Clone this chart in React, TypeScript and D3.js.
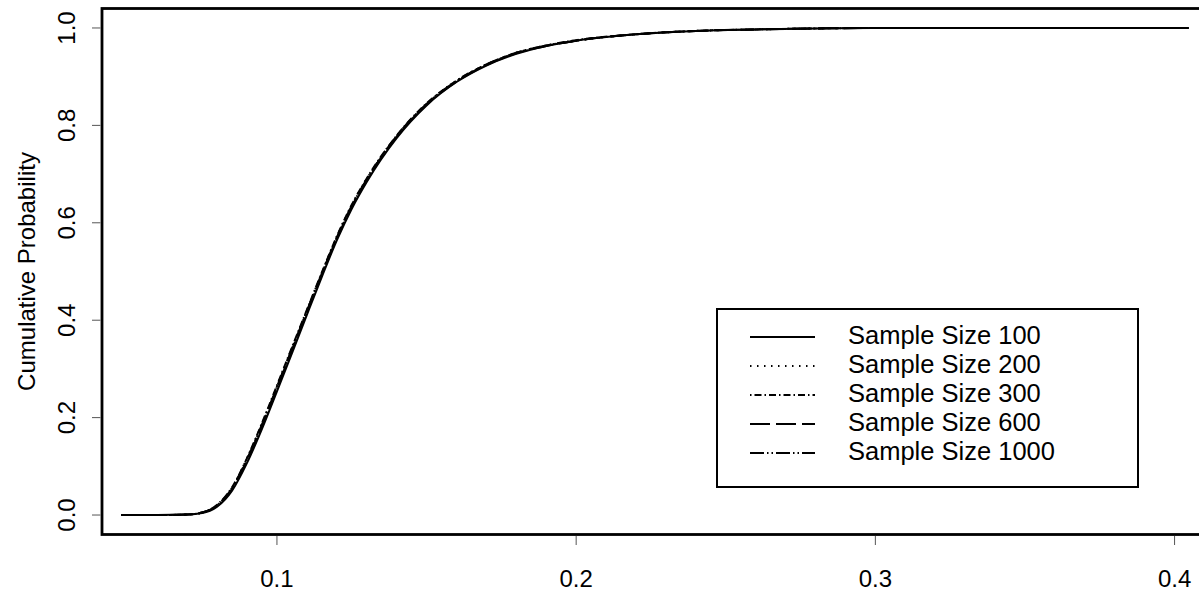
import React, {useEffect, useRef} from "react";
import * as d3 from "d3";

// x grid shared by all series
const xs = [0.048, 0.06, 0.07, 0.075, 0.08, 0.085, 0.09, 0.095, 0.1, 0.105, 0.11, 0.115, 0.12, 0.125, 0.13, 0.14, 0.15, 0.16, 0.17, 0.18, 0.19, 0.2, 0.22, 0.24, 0.26, 0.28, 0.3, 0.35, 0.4047];

const size100 = [0, 0, 0.001, 0.004, 0.017, 0.05, 0.107, 0.177, 0.254, 0.332, 0.411, 0.489, 0.564, 0.629, 0.684, 0.774, 0.841, 0.889, 0.923, 0.947, 0.963, 0.974, 0.987, 0.994, 0.997, 0.999, 1, 1, 1];
const size200 = [0, 0, 0.001, 0.005, 0.02, 0.056, 0.116, 0.187, 0.264, 0.342, 0.42, 0.497, 0.571, 0.636, 0.69, 0.778, 0.844, 0.891, 0.925, 0.949, 0.964, 0.974, 0.987, 0.994, 0.997, 0.999, 1, 1, 1];
const size300 = [0, 0, 0.001, 0.005, 0.021, 0.057, 0.117, 0.189, 0.266, 0.344, 0.421, 0.498, 0.572, 0.637, 0.691, 0.779, 0.845, 0.892, 0.925, 0.949, 0.964, 0.975, 0.987, 0.994, 0.997, 0.999, 1, 1, 1];
const size600 = [0, 0, 0.001, 0.005, 0.019, 0.054, 0.113, 0.184, 0.261, 0.339, 0.417, 0.494, 0.568, 0.633, 0.688, 0.777, 0.843, 0.89, 0.924, 0.948, 0.963, 0.974, 0.987, 0.994, 0.997, 0.999, 1, 1, 1];
const size1000 = [0, 0, 0.001, 0.005, 0.02, 0.055, 0.115, 0.186, 0.263, 0.341, 0.419, 0.496, 0.57, 0.635, 0.689, 0.778, 0.844, 0.891, 0.925, 0.949, 0.964, 0.974, 0.987, 0.994, 0.997, 0.999, 1, 1, 1];

const seriesNames = ["Sample Size 100", "Sample Size 200", "Sample Size 300", "Sample Size 600", "Sample Size 1000"];
const seriesValues = [size100, size200, size300, size600, size1000];
const dashes = ["none", "1.5,5.5", "1.5,3,7,3", "20,6", "14,3,1.5,3,1.5,3"];

const xTicks = [0.1, 0.2, 0.3, 0.4];
const yTicks = [0, 0.2, 0.4, 0.6, 0.8, 1.0];

const W = 1199, H = 596;
const FONT = "'Liberation Sans', Arial, Helvetica, sans-serif";

const App = () => {
    const ref = useRef(null);

    useEffect(() => {
        const svg = d3.select(ref.current);
        svg.selectAll("*").remove();

        const x = d3.scaleLinear().domain([0.04153, 0.4095]).range([102, 1203]);
        const y = d3.scaleLinear().domain([-0.04, 1.04]).range([534.5, 8.5]);

        const line = d3.line().x(d => x(d[0])).y(d => y(d[1])).curve(d3.curveMonotoneX);

        const g = svg.append("g");
        seriesValues.forEach((vals, i) => {
            g.append("path")
                .attr("d", line(xs.map((v, j) => [v, vals[j]])))
                .attr("fill", "none")
                .attr("stroke", "#000")
                .attr("stroke-width", 2)
                .attr("stroke-dasharray", dashes[i]);
        });

        // box
        svg.append("rect")
            .attr("x", 102).attr("y", 8.5)
            .attr("width", 1203 - 102).attr("height", 534.5 - 8.5)
            .attr("fill", "none").attr("stroke", "#000").attr("stroke-width", 2.8);

        // x ticks
        xTicks.forEach(t => {
            svg.append("line")
                .attr("x1", x(t)).attr("x2", x(t)).attr("y1", 536).attr("y2", 545)
                .attr("stroke", "#555").attr("stroke-width", 1);
            svg.append("text")
                .attr("x", x(t)).attr("y", 587)
                .attr("text-anchor", "middle")
                .attr("font-family", FONT).attr("font-size", 24)
                .text(d3.format(".1f")(t));
        });

        // y ticks
        yTicks.forEach(t => {
            svg.append("line")
                .attr("x1", 92).attr("x2", 100.5).attr("y1", y(t)).attr("y2", y(t))
                .attr("stroke", "#555").attr("stroke-width", 1);
            svg.append("text")
                .attr("transform", `translate(75,${y(t)}) rotate(-90)`)
                .attr("text-anchor", "middle")
                .attr("font-family", FONT).attr("font-size", 24)
                .text(d3.format(".1f")(t));
        });

        svg.append("text")
            .attr("transform", `translate(35,${(8.5 + 534.5) / 2}) rotate(-90)`)
            .attr("text-anchor", "middle")
            .attr("font-family", FONT).attr("font-size", 24)
            .text("Cumulative Probability");

        // legend
        const lg = svg.append("g");
        lg.append("rect")
            .attr("x", 717).attr("y", 309).attr("width", 421).attr("height", 178)
            .attr("fill", "#fff").attr("stroke", "#000").attr("stroke-width", 2);
        seriesNames.forEach((name, i) => {
            const ry = 337 + i * 29;
            lg.append("line")
                .attr("x1", 750).attr("x2", 815).attr("y1", ry).attr("y2", ry)
                .attr("stroke", "#000").attr("stroke-width", 2)
                .attr("stroke-dasharray", dashes[i]);
            lg.append("text")
                .attr("x", 848).attr("y", ry + 6.5)
                .attr("font-family", FONT).attr("font-size", 25.5)
                .text(name);
        });
    }, []);

    return (
        <svg
            ref={ref}
            width={W}
            height={H}
            viewBox={`0 0 ${W} ${H}`}
            style={{position: "absolute", left: 0, top: 0, background: "#fff"}}
        />
    );
};

export default App;
